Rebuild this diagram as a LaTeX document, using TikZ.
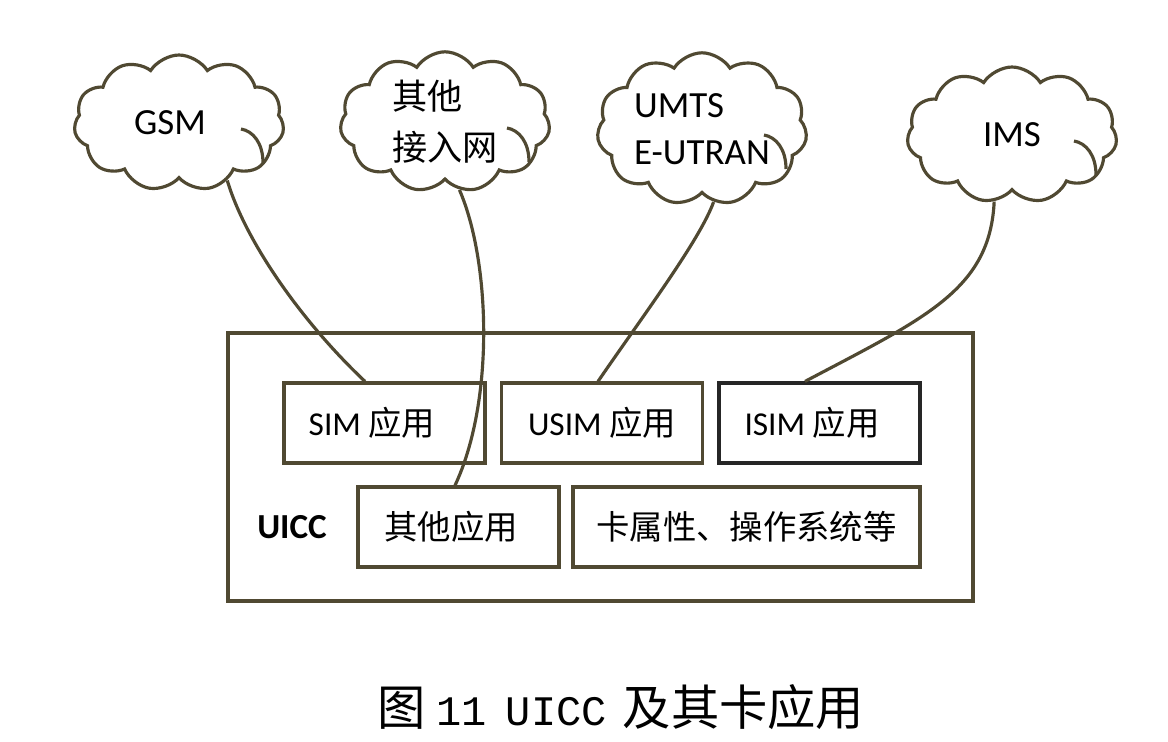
\documentclass[tikz,border=0pt]{standalone}
\usepackage{fontspec}
\setmainfont{Carlito}
\newfontfamily\cjk{Noto Sans CJK SC}
\newfontfamily\capmono[Scale=0.87]{Liberation Mono}
\usetikzlibrary{shapes.symbols,calc}
\definecolor{uiccline}{RGB}{80,73,50}
\definecolor{isimline}{RGB}{38,38,38}

\begin{document}
\begin{tikzpicture}[x=0.02cm,y=-0.02cm,
    net/.style={cloud,cloud puffs=11,cloud puff arc=115,aspect=1.5,draw=uiccline,line width=1.8pt,
      minimum width=4.2cm,minimum height=2.72cm,inner sep=0pt,align=left,font=\fontsize{21}{27}\selectfont},
    app/.style={draw=uiccline,line width=1.8pt,minimum width=4.02cm,minimum height=1.6cm,
      inner sep=0pt,font=\fontsize{19}{23}\selectfont},
    link/.style={draw=uiccline,line width=1.8pt}]
  \useasboundingbox (0,0) rectangle (1168,742);

  % networks
  \node[net] (gsm) at (179,123) {GSM\hspace*{0.36cm}};
  \node[net,font=\fontsize{20}{29}\selectfont\cjk] (access) at (445,122) {其他\\接入网};
  \node[net] (umts) at (702,129) {UMTS\\E-UTRAN};
  \node[net] (ims) at (1012,135) {IMS};
  \foreach \c in {gsm,access,umts,ims}
    \draw[link] ($(\c.center)+(62,6)$) .. controls ($(\c.center)+(74,8)$) and ($(\c.center)+(84,20)$) .. ($(\c.center)+(84,40)$);

  % card
  \node[draw=uiccline,line width=1.8pt,minimum width=14.9cm,minimum height=5.36cm,inner sep=0pt] (uicc) at (600.5,467) {};
  \node[font=\bfseries\fontsize{20}{24}\selectfont] (uicclabel) at (292,527) {UICC};

  \node[app] (sim) at (384.5,423) {SIM {\cjk 应用}\hspace*{0.5cm}};
  \node[app] (usim) at (602,423) {USIM {\cjk 应用}};
  \node[app,draw=isimline] (isim) at (819.5,423) {ISIM {\cjk 应用}\hspace*{0.3cm}};
  \node[app] (otherapp) at (458.5,527) {\cjk 其他应用\hspace*{0.3cm}};
  \node[app,minimum width=6.94cm] (cardos) at (746.5,527) {\cjk 卡属性、操作系统等};

  % links
  \draw[link] (gsm.-50) .. controls (245,240) and (300,320) .. ([xshift=-0.39cm]sim.north);
  \draw[link] (access.-78) .. controls (490,260) and (495,400) .. ([xshift=-0.07cm]otherapp.north);
  \draw[link] (umts.-81) .. controls (700,240) and (640,320) .. ([xshift=-0.08cm]usim.north);
  \draw[link] (ims.-105) .. controls (990,290) and (925,318) .. ([xshift=-0.29cm]isim.north);

  \node[anchor=west,inner sep=0pt] (caption) at (377,707)
    {\fontsize{27.5}{30}\selectfont\cjk 图\hspace{6pt}{\capmono 11}\hspace{11pt}{\capmono UICC}\hspace{9pt}及其卡应用};
\end{tikzpicture}
\end{document}
